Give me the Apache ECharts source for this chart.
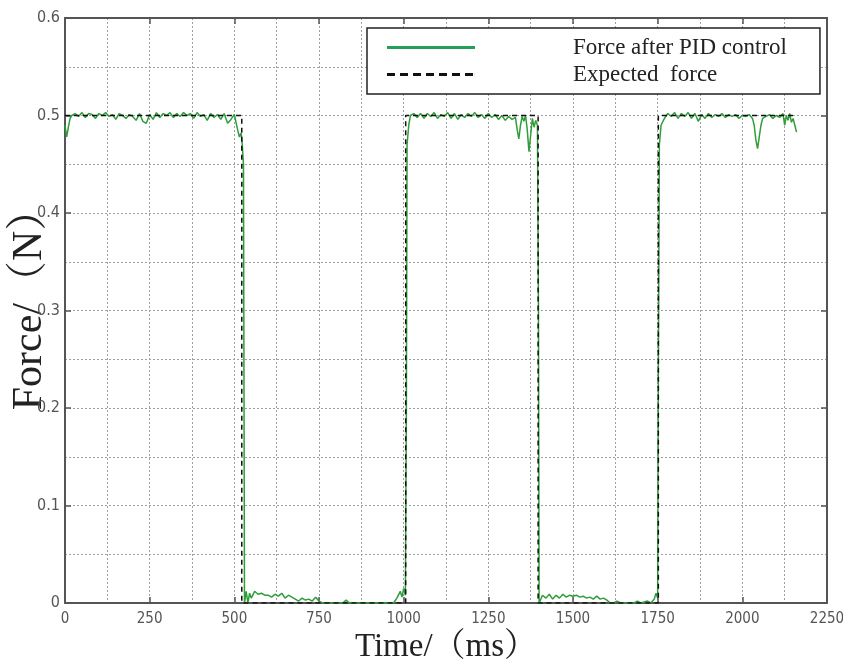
<!DOCTYPE html>
<html>
<head>
<meta charset="utf-8">
<script src="https://cdn.jsdelivr.net/npm/echarts@6/dist/echarts.min.js"></script>
<style>
html,body{margin:0;padding:0;background:#fff;}
#chart{width:843px;height:659px;}
</style>
</head>
<body>
<div id="chart"></div>
<script>
// ---- data ----
var seriesNames = ['Force after PID control', 'Expected  force'];
var xTicks = [0, 250, 500, 750, 1000, 1250, 1500, 1750, 2000, 2250];
var yTicks = [0, 0.1, 0.2, 0.3, 0.4, 0.5, 0.6];

var pidTime = [
  0,5,10,15,20,30,40,50,60,70,80,90,100,110,120,130,140,150,160,170,180,190,200,210,220,230,240,250,
  260,270,280,290,300,310,320,330,340,350,360,370,380,390,400,410,420,430,440,450,460,470,480,490,500,
  505,510,515,520,523,527,528,530,535,540,545,550,560,570,580,590,600,610,620,630,640,650,660,670,680,
  690,700,710,720,730,740,750,760,780,800,820,830,840,860,900,940,970,980,990,995,1000,1005,1008,1010,
  1015,1020,1030,1040,1050,1060,1070,1080,1090,1100,1110,1120,1130,1140,1150,1160,1170,1180,1190,1200,
  1210,1220,1230,1240,1250,1260,1270,1280,1290,1300,1310,1320,1330,1335,1340,1345,1350,1355,1360,1365,
  1370,1375,1380,1385,1390,1395,1398,1400,1405,1410,1420,1430,1440,1450,1460,1470,1480,1490,1500,1510,
  1520,1530,1540,1550,1560,1570,1580,1590,1600,1610,1620,1630,1640,1660,1680,1690,1700,1720,1730,1740,
  1745,1750,1752,1755,1760,1770,1780,1790,1800,1810,1820,1830,1840,1850,1860,1870,1880,1890,1900,1910,
  1920,1930,1940,1950,1960,1970,1980,1990,2000,2010,2020,2030,2035,2040,2045,2050,2055,2060,2070,2080,
  2090,2100,2110,2120,2125,2130,2135,2140,2145,2150,2155,2160
];
var pidForce = [
  0.490,0.478,0.488,0.497,0.500,0.502,0.499,0.503,0.498,0.502,0.501,0.497,0.502,0.500,0.503,0.499,0.501,0.496,0.502,0.500,0.497,0.501,0.499,0.495,0.502,0.494,0.492,0.501,
  0.496,0.503,0.498,0.502,0.500,0.503,0.498,0.502,0.499,0.503,0.500,0.502,0.497,0.503,0.499,0.501,0.495,0.502,0.498,0.501,0.496,0.502,0.492,0.496,0.501,
  0.500,0.485,0.478,0.482,0.472,0.450,0.300,0.000,0.012,0.000,0.010,0.005,0.012,0.009,0.010,0.008,0.008,0.006,0.009,0.007,0.010,0.005,0.008,0.006,0.004,
  0.002,0.005,0.003,0.004,0.002,0.006,0.002,0.000,0.000,0.000,0.000,0.003,0.000,0.000,0.000,0.000,0.000,0.005,0.012,0.006,0.015,0.008,0.200,0.470,
  0.490,0.500,0.502,0.498,0.502,0.497,0.502,0.499,0.503,0.497,0.501,0.499,0.503,0.497,0.502,0.496,0.501,0.498,0.502,0.499,
  0.503,0.498,0.501,0.497,0.502,0.498,0.501,0.496,0.500,0.495,0.499,0.496,0.498,0.486,0.476,0.490,0.499,0.494,0.500,0.485,
  0.463,0.480,0.497,0.488,0.495,0.490,0.300,0.000,0.002,0.008,0.005,0.009,0.004,0.008,0.005,0.009,0.006,0.008,0.007,0.008,
  0.006,0.007,0.005,0.006,0.004,0.007,0.004,0.005,0.003,0.000,0.000,0.002,0.000,0.000,0.000,0.002,0.000,0.002,0.000,0.004,
  0.010,0.005,0.240,0.470,0.490,0.497,0.502,0.499,0.503,0.497,0.502,0.499,0.503,0.497,0.502,0.494,0.501,0.497,0.502,0.498,
  0.501,0.499,0.502,0.498,0.501,0.499,0.501,0.497,0.500,0.499,0.501,0.497,0.490,0.475,0.466,0.478,0.490,0.497,0.499,0.501,
  0.497,0.500,0.498,0.502,0.490,0.500,0.495,0.502,0.493,0.497,0.490,0.483
];
var expTime  = [0, 522, 1006, 1397, 1752, 2160];
var expForce = [0.5, 0, 0.5, 0, 0.5, 0.5];

// ---- build ----
function pairs(xs, ys){ return xs.map(function(x,i){ return [x, ys[i]]; }); }

var tickFont = "'Liberation Sans Narrow','DejaVu Sans Condensed','Liberation Sans',sans-serif";
var serif = "'Liberation Serif','Noto Serif CJK SC','Noto Sans CJK SC',serif";
var gridLine = {show:true, lineStyle:{color:'#a0a0a0', type:[2,2], width:1}};
var frameLine = {show:true, onZero:false, lineStyle:{color:'#555', width:2}};
var innerTick = {show:true, inside:true, length:6, lineStyle:{color:'#555', width:1.5}};

// legend icons: solid bar and dashed bar (88 x 3)
var solidIcon = 'path://M0,0 L88,0 L88,3 L0,3 Z';
var dashIcon = 'path://M0,0 L8,0 L8,3 L0,3 Z M13,0 L21,0 L21,3 L13,3 Z M26,0 L34,0 L34,3 L26,3 Z M39,0 L47,0 L47,3 L39,3 Z M52,0 L60,0 L60,3 L52,3 Z M65,0 L73,0 L73,3 L65,3 Z M78,0 L86,0 L86,3 L78,3 Z M87.9,0 L88,0 L88,3 L87.9,3 Z';

var xMin = xTicks[0], xMax = xTicks[xTicks.length-1];
var yMin = yTicks[0], yMax = yTicks[yTicks.length-1];

var chart = echarts.init(document.getElementById('chart'));
chart.setOption({
  animation:false,
  backgroundColor:'#fff',
  grid:{left:65, right:16, top:18, bottom:56, outerBoundsMode:'none', containLabel:false,
        show:false},
  legend:{
    orient:'vertical', left:367, top:28,
    padding:[8,33,8,20], itemGap:4, itemWidth:88, itemHeight:3,
    borderColor:'#222', borderWidth:1.5, backgroundColor:'#fff',
    textStyle:{fontFamily:serif, fontSize:23, color:'#222', padding:[0,0,0,93]},
    data:[
      {name:seriesNames[0], icon:solidIcon, itemStyle:{color:'#22a05a'}},
      {name:seriesNames[1], icon:dashIcon, itemStyle:{color:'#111'}}
    ]
  },
  xAxis:[{
    type:'value', min:xMin, max:xMax, interval:250,
    name:'Time/（ms）', nameLocation:'middle', nameGap:28, nameMoveOverlap:false,
    nameTextStyle:{fontFamily:serif, fontSize:33, color:'#222'},
    axisLine:frameLine, axisTick:innerTick,
    axisLabel:{fontFamily:tickFont, fontSize:15, color:'#555', margin:9,
      formatter:function(v){ return String(v); }},
    splitLine:gridLine,
    minorTick:{show:false, splitNumber:2},
    minorSplitLine:gridLine
  },{
    type:'value', position:'top', min:xMin, max:xMax, interval:250,
    axisLine:frameLine, axisTick:innerTick, axisLabel:{show:false}, splitLine:{show:false}
  }],
  yAxis:[{
    type:'value', min:yMin, max:yMax, interval:0.1,
    name:'Force/（N）', nameLocation:'middle', nameGap:14, nameRotate:90, nameMoveOverlap:false,
    nameTextStyle:{fontFamily:serif, fontSize:42, color:'#222', padding:[0,0,0,22]},
    axisLine:frameLine, axisTick:innerTick,
    axisLabel:{fontFamily:tickFont, fontSize:16, color:'#555', margin:5,
      formatter:function(v){ return v===0 ? '0' : v.toFixed(1); }},
    splitLine:gridLine,
    minorTick:{show:false, splitNumber:2},
    minorSplitLine:gridLine
  },{
    type:'value', position:'right', min:yMin, max:yMax, interval:0.1,
    axisLine:frameLine, axisTick:innerTick, axisLabel:{show:false}, splitLine:{show:false}
  }],
  series:[
    {
      name:seriesNames[0], type:'line', symbol:'none', data:pairs(pidTime, pidForce),
      xAxisIndex:0, yAxisIndex:0,
      lineStyle:{color:'#2f9e3a', width:1.5}, itemStyle:{color:'#2f9e3a'}, z:3
    },
    {
      name:seriesNames[1], type:'line', symbol:'none', step:'end', data:pairs(expTime, expForce),
      xAxisIndex:0, yAxisIndex:0,
      lineStyle:{color:'#111', width:1.5, type:[5,4]}, itemStyle:{color:'#111'}, z:4
    }
  ]
});
</script>
</body>
</html>
